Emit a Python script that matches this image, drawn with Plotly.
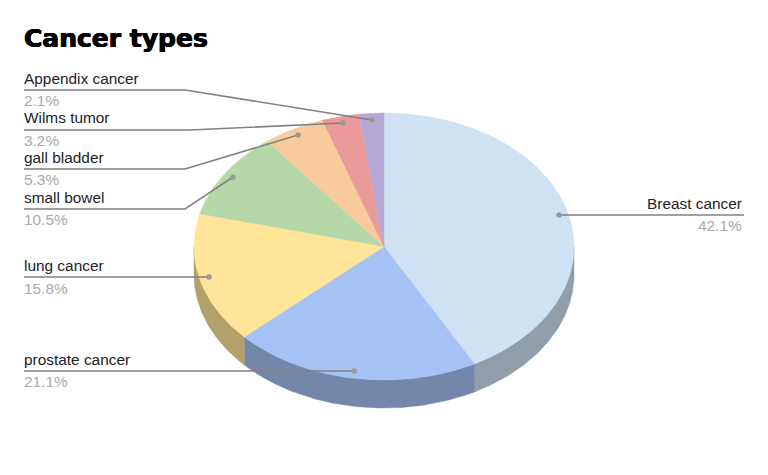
import numpy as np
import plotly.graph_objects as go

# ---- data ----
categories = ["Breast cancer", "prostate cancer", "lung cancer", "small bowel",
              "gall bladder", "Wilms tumor", "Appendix cancer"]
values = [8, 4, 3, 2, 1, 0.6, 0.4]
title_text = "Cancer types"

# ---- styles ----
top_colors = ["#cfe2f3", "#a4c2f4", "#ffe599", "#b6d7a8", "#f9cb9c", "#ea9999", "#b4a7d6"]
side_colors = ["#919eaa", "#7387ab", "#b3a06b", "#7f9676", "#ae8e6d", "#a46b6b", "#7e7596"]

# ---- layout geometry (pixels) ----
W, H = 768, 475
CX, CY, RX, RY, DEPTH = 384, 246.5, 190, 133.5, 28
DOT_FRAC = 0.95
label_x = 22
line_x = 24
elbow = {"Appendix cancer": (185, 90), "Wilms tumor": (190, 130), "gall bladder": (185, 169),
         "small bowel": (185, 209), "lung cancer": (None, 277), "prostate cancer": (None, 371),
         "Breast cancer": (None, 215)}
name_y = {"Appendix cancer": 78.5, "Wilms tumor": 117.5, "gall bladder": 157.5, "small bowel": 197.5,
          "lung cancer": 265.5, "prostate cancer": 359.5, "Breast cancer": 203.5}
pct_y = {"Appendix cancer": 100, "Wilms tumor": 140, "gall bladder": 179, "small bowel": 219,
         "lung cancer": 288, "prostate cancer": 381, "Breast cancer": 225}


def ell(theta, dy=0.0, f=1.0):
    """theta in radians, clockwise from 12 o'clock."""
    return CX + f * RX * np.sin(theta), CY - f * RY * np.cos(theta) + dy


total = sum(values)
edges = np.concatenate([[0], np.cumsum(values)]) / total * 2 * np.pi
fig = go.Figure()

# sides (only the front half, 90..270 degrees, is visible)
for i, c in enumerate(categories):
    a, b = max(edges[i], np.pi / 2), min(edges[i + 1], 3 * np.pi / 2)
    if a >= b:
        continue
    t = np.linspace(a, b, 120)
    x1, y1 = ell(t)
    x2, y2 = ell(t[::-1], DEPTH)
    fig.add_trace(go.Scatter(x=np.r_[x1, x2, x1[0]], y=np.r_[y1, y2, y1[0]], mode="lines",
                             fill="toself", fillcolor=side_colors[i],
                             line=dict(color=side_colors[i], width=0.5), hoverinfo="skip"))

# top faces
for i, c in enumerate(categories):
    t = np.linspace(edges[i], edges[i + 1], 160)
    x, y = ell(t)
    fig.add_trace(go.Scatter(x=np.r_[CX, x, CX], y=np.r_[CY, y, CY], mode="lines",
                             fill="toself", fillcolor=top_colors[i],
                             line=dict(color=top_colors[i], width=0.5),
                             name=c, hoverinfo="name"))

# leaders and labels
annotations = [dict(x=label_x, y=38, xref="x", yref="y", text="<b>%s</b>" % title_text,
                    showarrow=False, xanchor="left", yanchor="middle",
                    font=dict(family="DejaVu Sans", size=25, color="#000000",
                              shadow="0.5px 0 0 #000, -0.5px 0 0 #000, 0 0.4px 0 #000"))]
for i, c in enumerate(categories):
    mid = (edges[i] + edges[i + 1]) / 2
    dx, dy = ell(mid, 0, DOT_FRAC)
    ex, ey = elbow[c]
    right = c == "Breast cancer"
    lx = 744 if right else line_x
    xs = [lx] + ([ex] if ex is not None else []) + [dx]
    ys = [ey] + ([ey] if ex is not None else []) + [dy if ex is not None else ey]
    fig.add_trace(go.Scatter(x=xs, y=ys, mode="lines", line=dict(color="#808080", width=1.6),
                             hoverinfo="skip"))
    fig.add_trace(go.Scatter(x=[dx], y=[ys[-1]], mode="markers",
                             marker=dict(color="#9a9a9a", size=5.5), hoverinfo="skip"))
    anchor = "right" if right else "left"
    ax = 744 if right else label_x
    annotations.append(dict(x=ax, y=name_y[c], xref="x", yref="y", text=c, showarrow=False,
                            xanchor=anchor, yanchor="middle",
                            font=dict(family="Liberation Sans", size=15.4, color="#222222")))
    annotations.append(dict(x=ax, y=pct_y[c], xref="x", yref="y",
                            text="%.1f%%" % (values[i] / total * 100), showarrow=False,
                            xanchor=anchor, yanchor="middle",
                            font=dict(family="Liberation Sans", size=15.4, color="#aaaaaa")))

fig.update_layout(width=W, height=H, margin=dict(l=0, r=0, t=0, b=0), showlegend=False,
                  paper_bgcolor="white", plot_bgcolor="white", annotations=annotations,
                  xaxis=dict(range=[0, W], visible=False, fixedrange=True),
                  yaxis=dict(range=[H, 0], visible=False, fixedrange=True))
fig.write_html("out.html", config={"displayModeBar": False},
               post_script="document.body.style.margin='0';document.body.style.overflow='hidden';")
